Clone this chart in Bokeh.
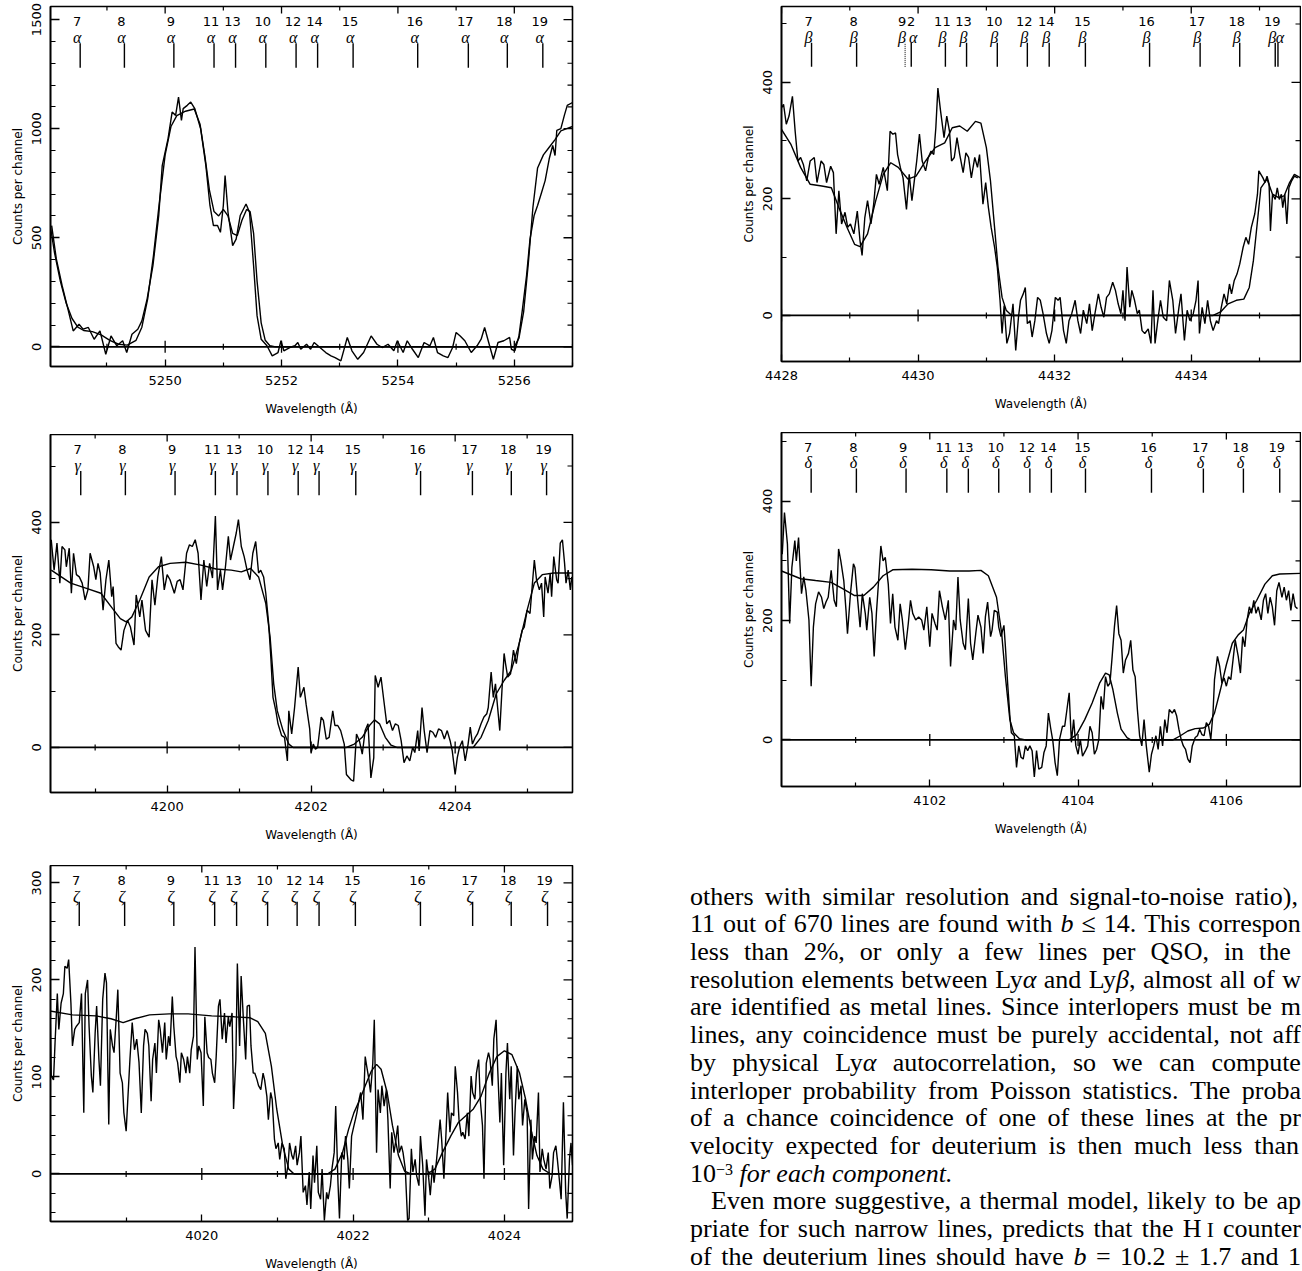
from bokeh.plotting import figure
from bokeh.models import Range1d, FixedTicker, Span, Div
from bokeh.layouts import row, column
from bokeh.embed import file_html
from bokeh.resources import INLINE
from bokeh.core.properties import value

SANS = "DejaVu Sans"
SERIF = "Liberation Serif"

# ---------------- component labels ----------------
COMP_LABELS = ["7", "8", "9", "11", "13", "10", "12", "14", "15", "16", "17", "18", "19"]
ALPHA_COMP = [5248.54, 5249.30, 5250.15, 5250.84, 5251.21, 5251.73, 5252.25, 5252.62, 5253.23, 5254.34, 5255.21, 5255.88, 5256.49]
BETA_COMP = [4428.44, 4429.10, 4429.81, 4430.40, 4430.71, 4431.16, 4431.60, 4431.92, 4432.45, 4433.39, 4434.13, 4434.71, 4435.23]
BETA_EXTRA_X = [4429.90, 4435.27]
BETA_EXTRA_NUM = ["2"]
GAMMA_COMP = [4198.80, 4199.42, 4200.11, 4200.67, 4200.97, 4201.40, 4201.82, 4202.11, 4202.62, 4203.52, 4204.24, 4204.78, 4205.27]
DELTA_COMP = [4100.40, 4101.01, 4101.68, 4102.23, 4102.52, 4102.93, 4103.35, 4103.64, 4104.10, 4104.99, 4105.69, 4106.23, 4106.72]
ZETA_COMP = [4018.38, 4018.98, 4019.63, 4020.17, 4020.46, 4020.87, 4021.26, 4021.55, 4022.03, 4022.89, 4023.58, 4024.09, 4024.57]

# ---------------- Ly alpha ----------------
ALPHA_X = [5248.05, 5248.13, 5248.23, 5248.33, 5248.42, 5248.52, 5248.59, 5248.68, 5248.78, 5248.88,
           5248.98, 5249.07, 5249.17, 5249.27, 5249.34, 5249.43, 5249.53, 5249.60, 5249.69, 5249.79,
           5249.89, 5249.95, 5250.05, 5250.12, 5250.18, 5250.23, 5250.28, 5250.31, 5250.38, 5250.44,
           5250.51, 5250.61, 5250.70, 5250.77, 5250.83, 5250.90, 5250.95, 5251.00, 5251.03, 5251.08,
           5251.16, 5251.22, 5251.29, 5251.39, 5251.45, 5251.52, 5251.58, 5251.65, 5251.75, 5251.84,
           5251.94, 5251.99, 5252.04, 5252.14, 5252.23, 5252.28, 5252.33, 5252.43, 5252.50, 5252.56,
           5252.66, 5252.76, 5252.85, 5252.92, 5253.02, 5253.13, 5253.21, 5253.31, 5253.41, 5253.54,
           5253.64, 5253.73, 5253.83, 5253.93, 5253.99, 5254.09, 5254.16, 5254.25, 5254.35, 5254.45,
           5254.55, 5254.61, 5254.68, 5254.78, 5254.86, 5254.94, 5255.00, 5255.07, 5255.15, 5255.26,
           5255.36, 5255.43, 5255.49, 5255.56, 5255.64, 5255.72, 5255.82, 5255.92, 5255.95, 5256.01,
           5256.08, 5256.14, 5256.21, 5256.27, 5256.34, 5256.40, 5256.47, 5256.53, 5256.60, 5256.66,
           5256.70, 5256.73, 5256.80, 5256.86, 5256.91, 5257.0]
ALPHA_Y = [556, 403, 280, 173, 73, 104, 81, 89, 35, 73,
           -34, 50, 5, 28, -26, 58, 81, 119, 219, 372,
           602, 831, 954, 1076, 1061, 1145, 1038, 1092, 1107, 1122,
           1092, 1000, 831, 648, 556, 556, 525, 648, 785, 617,
           464, 494, 602, 655, 617, 372, 142, 35, 5, -41,
           -26, 28, -18, -3, 5, 20, -11, 12, -11, 20,
           -3, -26, -41, -49, -64, 43, -18, -57, -26, 50,
           12, -3, 12, -18, 28, -26, 28, -11, -49, 20,
           5, 43, -26, -41, -49, -3, 66, 50, 28, -26,
           5, 35, 89, 20, -57, 20, 28, 43, -11, -18,
           50, 173, 326, 494, 602, 648, 709, 762, 862, 923,
           877, 992, 1000, 1061, 1107, 1120]
ALPHA_MX = [5248.0, 5248.1, 5248.2, 5248.3, 5248.4, 5248.5, 5248.6, 5248.75, 5248.9,
            5249.05, 5249.2, 5249.35, 5249.5, 5249.6, 5249.7, 5249.8, 5249.9,
            5250.0, 5250.1, 5250.2, 5250.35, 5250.5, 5250.6, 5250.68, 5250.76, 5250.84, 5250.92,
            5251.0, 5251.08, 5251.16, 5251.24, 5251.32, 5251.4, 5251.46, 5251.52, 5251.58, 5251.65,
            5251.72, 5251.8, 5251.9, 5252.0, 5256.0, 5256.08, 5256.16, 5256.24, 5256.32, 5256.4,
            5256.5, 5256.6, 5256.7, 5256.8, 5256.9, 5257.0]
ALPHA_MY = [600, 430, 300, 200, 130, 90, 75, 70, 55,
            30, 12, 8, 30, 90, 220, 420, 660,
            880, 1010, 1060, 1080, 1090, 1020, 880, 720, 620, 600,
            630, 600, 520, 510, 580, 630, 620, 520, 300, 110,
            30, 5, 0, 0, 0, 40, 160, 380, 640, 820,
            880, 915, 950, 990, 1000, 1010]

# ---------------- Ly beta ----------------
BETA_X = [4428.00, 4428.03, 4428.07, 4428.11, 4428.16, 4428.20, 4428.24, 4428.28, 4428.32, 4428.37,
          4428.42, 4428.48, 4428.52, 4428.58, 4428.62, 4428.66, 4428.72, 4428.76, 4428.80, 4428.84,
          4428.88, 4428.93, 4428.97, 4429.01, 4429.06, 4429.11, 4429.15, 4429.18, 4429.22, 4429.26,
          4429.31, 4429.35, 4429.39, 4429.43, 4429.49, 4429.55, 4429.59, 4429.63, 4429.67, 4429.70,
          4429.74, 4429.78, 4429.83, 4429.87, 4429.91, 4429.95, 4429.98, 4430.02, 4430.06, 4430.11,
          4430.15, 4430.19, 4430.23, 4430.26, 4430.29, 4430.33, 4430.38, 4430.42, 4430.46, 4430.49,
          4430.53, 4430.57, 4430.61, 4430.66, 4430.70, 4430.74, 4430.78, 4430.83, 4430.87, 4430.90,
          4430.95, 4430.99, 4431.03, 4431.07, 4431.12, 4431.16, 4431.20, 4431.23, 4431.26, 4431.30,
          4431.34, 4431.39, 4431.43, 4431.47, 4431.50, 4431.54, 4431.57, 4431.60, 4431.64, 4431.67,
          4431.71, 4431.75, 4431.79, 4431.83, 4431.88, 4431.92, 4431.96, 4432.01, 4432.05, 4432.08,
          4432.13, 4432.17, 4432.21, 4432.25, 4432.30, 4432.34, 4432.38, 4432.42, 4432.47, 4432.51,
          4432.55, 4432.59, 4432.64, 4432.68, 4432.72, 4432.76, 4432.80, 4432.85, 4432.89, 4432.93,
          4432.97, 4433.00, 4433.03, 4433.06, 4433.10, 4433.13, 4433.17, 4433.21, 4433.24, 4433.28,
          4433.32, 4433.37, 4433.41, 4433.44, 4433.47, 4433.51, 4433.55, 4433.59, 4433.64, 4433.68,
          4433.73, 4433.77, 4433.82, 4433.85, 4433.90, 4433.94, 4433.98, 4434.03, 4434.07, 4434.10,
          4434.12, 4434.16, 4434.20, 4434.24, 4434.28, 4434.32, 4434.37, 4434.40, 4434.44, 4434.48,
          4434.52, 4434.56, 4434.59, 4434.63, 4434.67, 4434.71, 4434.76, 4434.80, 4434.84, 4434.88,
          4434.93, 4434.97, 4434.99, 4435.02, 4435.05, 4435.08, 4435.11, 4435.14, 4435.16, 4435.19,
          4435.23, 4435.26, 4435.29, 4435.32, 4435.34, 4435.37, 4435.40, 4435.43, 4435.47, 4435.51,
          4435.56]
BETA_Y = [356, 362, 328, 342, 376, 316, 265, 271, 259, 231,
          265, 271, 228, 265, 259, 228, 256, 245, 140, 214,
          157, 177, 151, 157, 140, 179, 128, 103, 168, 197,
          157, 191, 242, 225, 254, 214, 316, 311, 313, 276,
          254, 236, 182, 242, 197, 236, 265, 311, 265, 248,
          271, 282, 276, 322, 390, 350, 305, 342, 316, 265,
          271, 305, 276, 245, 279, 271, 236, 271, 254, 276,
          191, 228, 185, 151, 117, 83, 26, -31, 17, -48,
          -31, 20, -60, -3, 26, 37, 48, -14, -9, -37,
          -9, 31, 26, 3, -31, -48, -26, 31, 26, 31,
          -26, -48, -9, 3, 26, -9, -31, 9, -14, 20,
          -26, 3, 37, 14, -3, 31, 37, 57, 43, 20,
          3, 43, -9, 83, 14, 43, 26, 3, 9, -26,
          -31, -23, -48, 43, -48, -9, 26, -3, -9, 60,
          26, -31, 14, 37, -43, 9, -9, 3, 26, 60,
          -31, 14, -14, 26, -9, -26, -9, -14, 14, 37,
          20, 54, 37, 60, 71, 88, 117, 134, 122, 151,
          174, 208, 248, 242, 236, 228, 239, 225, 145, 208,
          199, 219, 199, 208, 185, 208, 157, 219, 231, 239,
          236]
BETA_MX = [4428.0, 4428.14, 4428.28, 4428.42, 4428.59, 4428.73, 4428.84, 4428.96, 4429.07, 4429.15,
           4429.26, 4429.38, 4429.49, 4429.60, 4429.71, 4429.85, 4429.97, 4430.11, 4430.25, 4430.39,
           4430.50, 4430.61, 4430.72, 4430.84, 4430.92, 4431.00, 4431.06, 4431.12, 4431.17, 4431.23,
           4431.29, 4431.37, 4434.32, 4434.43, 4434.54, 4434.66, 4434.77, 4434.85, 4434.91, 4434.97,
           4435.02, 4435.11, 4435.19, 4435.28, 4435.36, 4435.44, 4435.51, 4435.6]
BETA_MY = [319, 293, 254, 225, 222, 219, 185, 151, 122, 118,
           140, 197, 242, 262, 254, 234, 239, 265, 288, 296,
           322, 325, 316, 333, 330, 288, 231, 151, 83, 31,
           9, 0, 0, 6, 20, 26, 28, 48, 94, 162,
           219, 234, 208, 202, 205, 228, 242, 236]

# ---------------- Ly gamma ----------------
GAMMA_X = [4198.39, 4198.43, 4198.47, 4198.51, 4198.54, 4198.58, 4198.60, 4198.64, 4198.67, 4198.70,
           4198.74, 4198.78, 4198.82, 4198.86, 4198.90, 4198.93, 4198.98, 4199.01, 4199.04, 4199.07,
           4199.11, 4199.15, 4199.19, 4199.23, 4199.25, 4199.29, 4199.32, 4199.36, 4199.40, 4199.45,
           4199.49, 4199.54, 4199.57, 4199.62, 4199.65, 4199.70, 4199.75, 4199.79, 4199.83, 4199.87,
           4199.92, 4199.96, 4200.00, 4200.04, 4200.10, 4200.14, 4200.18, 4200.22, 4200.27, 4200.31,
           4200.35, 4200.39, 4200.43, 4200.47, 4200.51, 4200.55, 4200.59, 4200.63, 4200.67, 4200.70,
           4200.74, 4200.77, 4200.81, 4200.85, 4200.88, 4200.92, 4200.96, 4200.99, 4201.03, 4201.07,
           4201.11, 4201.15, 4201.19, 4201.23, 4201.27, 4201.30, 4201.34, 4201.37, 4201.41, 4201.44,
           4201.47, 4201.51, 4201.54, 4201.59, 4201.63, 4201.67, 4201.69, 4201.73, 4201.77, 4201.82,
           4201.85, 4201.90, 4201.93, 4201.98, 4202.00, 4202.03, 4202.06, 4202.09, 4202.14, 4202.17,
           4202.21, 4202.25, 4202.30, 4202.33, 4202.37, 4202.41, 4202.46, 4202.49, 4202.55, 4202.59,
           4202.63, 4202.67, 4202.71, 4202.75, 4202.79, 4202.83, 4202.87, 4202.89, 4202.93, 4202.97,
           4203.01, 4203.05, 4203.09, 4203.13, 4203.17, 4203.21, 4203.25, 4203.29, 4203.33, 4203.37,
           4203.41, 4203.44, 4203.48, 4203.50, 4203.54, 4203.57, 4203.61, 4203.65, 4203.69, 4203.73,
           4203.77, 4203.81, 4203.85, 4203.89, 4203.93, 4203.96, 4204.00, 4204.03, 4204.06, 4204.10,
           4204.14, 4204.18, 4204.21, 4204.24, 4204.28, 4204.31, 4204.36, 4204.40, 4204.44, 4204.46,
           4204.50, 4204.53, 4204.56, 4204.59, 4204.62, 4204.65, 4204.68, 4204.70, 4204.73, 4204.77,
           4204.81, 4204.85, 4204.89, 4204.93, 4204.96, 4205.00, 4205.04, 4205.07, 4205.10, 4205.13,
           4205.17, 4205.20, 4205.23, 4205.25, 4205.29, 4205.32, 4205.34, 4205.37, 4205.41, 4205.43,
           4205.46, 4205.49, 4205.52, 4205.54, 4205.57, 4205.60, 4205.62]
GAMMA_Y = [369, 315, 363, 292, 357, 351, 321, 354, 274, 345,
           307, 303, 292, 262, 280, 345, 321, 298, 327, 310,
           244, 298, 333, 268, 286, 185, 179, 173, 208, 226,
           214, 182, 271, 232, 262, 208, 196, 298, 253, 303,
           339, 280, 307, 298, 274, 295, 298, 280, 345, 360,
           357, 369, 345, 262, 333, 286, 327, 301, 411, 280,
           315, 280, 321, 375, 333, 357, 381, 405, 357, 339,
           315, 298, 345, 366, 310, 315, 303, 274, 220, 161,
           89, 65, 42, 21, 18, -24, 65, 24, 71, 143,
           89, 107, 77, 33, -9, 6, -3, 0, 54, 48,
           15, 18, 65, 39, 39, 30, 6, -48, -57, -60,
           24, 12, -12, 30, 42, -54, -18, 128, 107, 125,
           83, 42, 48, 30, 42, 39, 12, -27, -15, -24,
           0, -9, 30, -6, 71, 30, -9, 30, 27, 18,
           33, 30, 15, 30, 12, -6, -48, -18, 0, 12,
           -24, 6, 36, 6, 18, 24, 42, 54, 60, 71,
           134, 89, 113, 71, 30, 101, 167, 149, 125, 131,
           173, 149, 185, 208, 214, 244, 238, 286, 333, 298,
           280, 292, 232, 303, 274, 310, 268, 339, 298, 292,
           363, 369, 327, 292, 315, 280, 303]
GAMMA_MX = [4198.39, 4198.66, 4198.87, 4199.08, 4199.24, 4199.35, 4199.43, 4199.51, 4199.62, 4199.75,
            4199.88, 4200.04, 4200.26, 4200.47, 4200.68, 4200.89, 4201.03, 4201.16, 4201.27, 4201.37,
            4201.43, 4201.48, 4201.53, 4201.61, 4201.69, 4201.75, 4202.49, 4202.60, 4202.71, 4202.81,
            4202.88, 4202.95, 4203.03, 4203.11, 4203.19, 4204.25, 4204.36, 4204.46, 4204.57, 4204.68,
            4204.78, 4204.89, 4205.00, 4205.10, 4205.21, 4205.37, 4205.63]
GAMMA_MY = [315, 292, 283, 274, 247, 229, 223, 232, 262, 303,
            321, 327, 329, 324, 317, 315, 312, 318, 303, 256,
            196, 113, 65, 30, 6, 0, 0, 6, 18, 39,
            49, 42, 18, 4, 0, 0, 18, 48, 95, 119,
            137, 185, 244, 292, 307, 310, 310]

# ---------------- Ly delta ----------------
DELTA_X = [4100.01, 4100.04, 4100.08, 4100.11, 4100.14, 4100.18, 4100.20, 4100.23, 4100.27, 4100.30,
           4100.33, 4100.37, 4100.40, 4100.43, 4100.46, 4100.50, 4100.54, 4100.57, 4100.60, 4100.63,
           4100.67, 4100.71, 4100.74, 4100.77, 4100.80, 4100.84, 4100.87, 4100.89, 4100.93, 4100.97,
           4100.99, 4101.02, 4101.06, 4101.09, 4101.13, 4101.15, 4101.19, 4101.22, 4101.25, 4101.28,
           4101.31, 4101.34, 4101.37, 4101.40, 4101.44, 4101.47, 4101.50, 4101.53, 4101.57, 4101.60,
           4101.63, 4101.67, 4101.71, 4101.74, 4101.77, 4101.81, 4101.85, 4101.89, 4101.92, 4101.96,
           4102.00, 4102.03, 4102.07, 4102.10, 4102.13, 4102.17, 4102.21, 4102.25, 4102.28, 4102.32,
           4102.35, 4102.38, 4102.41, 4102.45, 4102.48, 4102.52, 4102.55, 4102.58, 4102.62, 4102.65,
           4102.69, 4102.72, 4102.75, 4102.78, 4102.82, 4102.84, 4102.87, 4102.91, 4102.93, 4102.96,
           4103.00, 4103.02, 4103.05, 4103.08, 4103.10, 4103.14, 4103.17, 4103.20, 4103.23, 4103.26,
           4103.29, 4103.32, 4103.35, 4103.38, 4103.41, 4103.44, 4103.47, 4103.51, 4103.54, 4103.57,
           4103.60, 4103.63, 4103.66, 4103.69, 4103.72, 4103.75, 4103.79, 4103.82, 4103.85, 4103.88,
           4103.91, 4103.94, 4103.97, 4104.00, 4104.03, 4104.06, 4104.10, 4104.13, 4104.16, 4104.19,
           4104.22, 4104.25, 4104.28, 4104.31, 4104.34, 4104.37, 4104.40, 4104.43, 4104.46, 4104.49,
           4104.52, 4104.55, 4104.58, 4104.61, 4104.64, 4104.68, 4104.71, 4104.74, 4104.77, 4104.80,
           4104.83, 4104.86, 4104.89, 4104.92, 4104.96, 4104.99, 4105.02, 4105.05, 4105.08, 4105.11,
           4105.14, 4105.17, 4105.20, 4105.23, 4105.27, 4105.30, 4105.33, 4105.36, 4105.39, 4105.42,
           4105.45, 4105.48, 4105.51, 4105.54, 4105.58, 4105.61, 4105.64, 4105.67, 4105.70, 4105.73,
           4105.76, 4105.79, 4105.82, 4105.84, 4105.88, 4105.91, 4105.94, 4105.97, 4106.00, 4106.03,
           4106.06, 4106.09, 4106.12, 4106.16, 4106.19, 4106.22, 4106.25, 4106.28, 4106.31, 4106.34,
           4106.37, 4106.40, 4106.43, 4106.47, 4106.50, 4106.53, 4106.56, 4106.59, 4106.62, 4106.65,
           4106.68, 4106.71, 4106.75, 4106.78, 4106.81, 4106.84, 4106.87, 4106.90, 4106.93, 4106.96]
DELTA_Y = [311, 381, 328, 195, 289, 334, 300, 339, 245, 273,
           250, 201, 90, 189, 228, 248, 239, 220, 231, 239,
           284, 234, 223, 320, 300, 267, 217, 178, 245, 295,
           289, 245, 189, 245, 212, 184, 239, 212, 140, 212,
           267, 325, 300, 306, 261, 195, 245, 189, 167, 228,
           201, 151, 195, 234, 212, 201, 206, 201, 184, 223,
           156, 212, 195, 184, 250, 223, 201, 234, 123, 201,
           184, 273, 201, 162, 151, 237, 162, 134, 178, 209,
           189, 145, 206, 231, 173, 184, 217, 214, 189, 173,
           192, 156, 95, 40, 12, 7, -46, -10, -29, -32,
           -10, -18, -10, -18, -62, -18, -49, -46, -21, -10,
           45, 20, -2, -38, -60, 1, 23, 23, 51, 79,
           -4, 34, -10, -24, 1, -27, -18, -10, 23, 12,
           -24, -16, 1, 73, 51, 106, 90, 95, 140, 189,
           225, 178, 167, 112, 134, 145, 167, 117, 106, 51,
           7, -10, 34, -10, -54, -24, -10, 7, -16, 23,
           -10, 34, 12, 51, 45, 51, 40, 18, 1, -10,
           -16, -32, -38, -10, 4, 7, 18, 9, 7, 29,
           23, 1, 45, 101, 140, 123, 95, 104, 90, 106,
           101, 134, 167, 140, 112, 173, 156, 201, 223, 212,
           234, 212, 223, 201, 234, 245, 212, 239, 223, 192,
           250, 264, 239, 256, 234, 250, 217, 245, 223, 220]
DELTA_MX = [4100.0, 4100.26, 4100.46, 4100.67, 4100.83, 4100.98, 4101.11, 4101.24, 4101.37, 4101.50,
            4101.76, 4102.02, 4102.27, 4102.53, 4102.69, 4102.79, 4102.90, 4102.97, 4103.02, 4103.08,
            4103.13, 4103.21, 4103.29, 4103.88, 4103.98, 4104.09, 4104.19, 4104.29, 4104.37, 4104.42,
            4104.47, 4104.53, 4104.58, 4104.66, 4104.71, 4105.28, 4105.38, 4105.48, 4105.58, 4105.69,
            4105.77, 4105.84, 4105.92, 4106.00, 4106.08, 4106.16, 4106.23, 4106.31, 4106.41, 4106.52,
            4106.62, 4106.72, 4107.0]
DELTA_MY = [283, 270, 267, 264, 253, 242, 242, 256, 275, 285,
            286, 285, 283, 283, 284, 275, 239, 178, 106, 34,
            12, 2, 0, 0, 9, 34, 62, 95, 112, 109,
            84, 45, 18, 4, 0, 0, 7, 15, 19, 20,
            26, 45, 84, 126, 162, 176, 184, 212, 234, 261,
            275, 278, 279]

# ---------------- Ly zeta ----------------
ZETA_X = [4017.99, 4018.01, 4018.04, 4018.06, 4018.09, 4018.11, 4018.14, 4018.17, 4018.19, 4018.22,
          4018.24, 4018.27, 4018.29, 4018.32, 4018.34, 4018.38, 4018.41, 4018.44, 4018.46, 4018.49,
          4018.51, 4018.54, 4018.56, 4018.59, 4018.61, 4018.64, 4018.66, 4018.69, 4018.72, 4018.74,
          4018.77, 4018.79, 4018.82, 4018.84, 4018.87, 4018.89, 4018.92, 4018.95, 4018.97, 4019.00,
          4019.02, 4019.05, 4019.08, 4019.11, 4019.14, 4019.17, 4019.20, 4019.23, 4019.25, 4019.28,
          4019.30, 4019.33, 4019.35, 4019.38, 4019.40, 4019.43, 4019.45, 4019.48, 4019.51, 4019.53,
          4019.56, 4019.58, 4019.61, 4019.63, 4019.66, 4019.68, 4019.71, 4019.73, 4019.76, 4019.79,
          4019.81, 4019.84, 4019.86, 4019.89, 4019.91, 4019.94, 4019.96, 4019.99, 4020.02, 4020.04,
          4020.07, 4020.09, 4020.12, 4020.14, 4020.17, 4020.19, 4020.22, 4020.24, 4020.27, 4020.30,
          4020.32, 4020.35, 4020.37, 4020.40, 4020.42, 4020.45, 4020.47, 4020.50, 4020.52, 4020.55,
          4020.58, 4020.60, 4020.63, 4020.65, 4020.68, 4020.70, 4020.73, 4020.75, 4020.78, 4020.81,
          4020.83, 4020.86, 4020.88, 4020.91, 4020.93, 4020.96, 4020.98, 4021.01, 4021.03, 4021.06,
          4021.09, 4021.11, 4021.14, 4021.16, 4021.19, 4021.21, 4021.24, 4021.26, 4021.29, 4021.31,
          4021.34, 4021.37, 4021.39, 4021.42, 4021.44, 4021.47, 4021.49, 4021.52, 4021.54, 4021.57,
          4021.59, 4021.62, 4021.65, 4021.67, 4021.70, 4021.72, 4021.75, 4021.77, 4021.80, 4021.82,
          4021.85, 4021.88, 4021.90, 4021.93, 4021.95, 4021.98, 4022.00, 4022.03, 4022.05, 4022.08,
          4022.10, 4022.13, 4022.16, 4022.18, 4022.21, 4022.23, 4022.26, 4022.28, 4022.31, 4022.33,
          4022.36, 4022.38, 4022.41, 4022.44, 4022.46, 4022.49, 4022.51, 4022.54, 4022.56, 4022.59,
          4022.61, 4022.64, 4022.66, 4022.69, 4022.72, 4022.74, 4022.77, 4022.79, 4022.82, 4022.84,
          4022.87, 4022.89, 4022.92, 4022.95, 4022.97, 4023.00, 4023.02, 4023.05, 4023.07, 4023.10,
          4023.12, 4023.15, 4023.17, 4023.20, 4023.23, 4023.25, 4023.28, 4023.30, 4023.33, 4023.35,
          4023.38, 4023.40, 4023.43, 4023.45, 4023.48, 4023.51, 4023.53, 4023.56, 4023.58, 4023.61,
          4023.63, 4023.66, 4023.68, 4023.71, 4023.73, 4023.76, 4023.79, 4023.81, 4023.84, 4023.86,
          4023.89, 4023.91, 4023.94, 4023.96, 4023.99, 4024.02, 4024.04, 4024.07, 4024.09, 4024.12,
          4024.14, 4024.17, 4024.19, 4024.22, 4024.24, 4024.27, 4024.30, 4024.32, 4024.35, 4024.37,
          4024.40, 4024.42, 4024.45, 4024.47, 4024.50, 4024.52, 4024.55, 4024.58, 4024.60, 4024.63,
          4024.65, 4024.68, 4024.70, 4024.73, 4024.75, 4024.78, 4024.81, 4024.83, 4024.86, 4024.88,
          4024.90]
ZETA_Y = [190, 101, 97, 135, 186, 149, 176, 186, 214, 212,
          221, 176, 132, 149, 152, 156, 186, 63, 186, 200,
          152, 101, 84, 145, 173, 118, 91, 180, 207, 197,
          51, 149, 132, 125, 162, 190, 104, 94, 63, 44,
          74, 118, 156, 128, 139, 115, 63, 132, 149, 145,
          132, 75, 118, 135, 104, 159, 149, 125, 156, 118,
          142, 132, 183, 152, 121, 115, 94, 125, 118, 104,
          121, 104, 128, 142, 234, 118, 132, 125, 70, 162,
          125, 120, 118, 104, 94, 121, 173, 180, 139, 166,
          135, 162, 152, 166, 67, 118, 217, 132, 204, 159,
          118, 173, 174, 132, 104, 104, 97, 91, 87, 104,
          97, 80, 56, 84, 77, 36, 26, 32, 15, 32,
          26, -5, 9, 32, 19, 15, 29, 9, 22, 39,
          -19, -12, -32, 2, -36, 19, -9, 29, -19, -26,
          5, -48, -19, -26, -12, 5, 22, 70, -9, -46,
          22, 15, 39, 15, -15, 39, 46, 56, 63, 77,
          84, 56, 121, 111, 97, 84, 114, 159, 22, 87,
          63, 91, 70, 87, 56, -15, 43, 22, 32, 50,
          22, 29, 22, 5, -48, -46, 26, 2, 15, -2,
          -12, 39, 9, -43, 15, -5, -22, 9, -9, 12,
          29, 56, 36, -5, 46, 84, 43, 63, 60, 111,
          84, 56, 39, 43, 36, 63, 39, 101, 84, 77,
          104, 118, 77, 50, -5, 114, 125, 118, 91, 139,
          159, 111, 53, 104, 9, 104, 135, 77, 111, 19,
          63, 111, 77, 91, 50, 77, 63, -36, 56, 15,
          39, 32, 84, 2, 26, 15, 5, 22, -15, -2,
          22, 29, 15, -9, -26, 74, -19, -46, 15, 32,
          9]
ZETA_MX = [4017.99, 4018.29, 4018.60, 4018.80, 4018.96, 4019.11, 4019.31, 4019.57, 4019.82, 4020.13,
           4020.43, 4020.64, 4020.74, 4020.84, 4020.92, 4020.99, 4021.07, 4021.15, 4021.22, 4021.66,
           4021.76, 4021.86, 4021.94, 4022.01, 4022.09, 4022.16, 4022.24, 4022.31, 4022.37, 4022.45,
           4022.52, 4022.60, 4022.68, 4022.76, 4022.98, 4023.08, 4023.18, 4023.29, 4023.39, 4023.49,
           4023.59, 4023.69, 4023.80, 4023.90, 4024.00, 4024.10, 4024.20, 4024.28, 4024.36, 4024.43,
           4024.51, 4024.61, 4024.90]
ZETA_MY = [168, 164, 163, 160, 156, 160, 164, 165, 165, 163,
           162, 161, 157, 145, 111, 67, 29, 5, 0, 0,
           5, 22, 46, 63, 77, 91, 106, 113, 108, 84,
           50, 19, 3, 0, 0, 5, 22, 39, 53, 60,
           67, 80, 104, 121, 127, 123, 104, 77, 43, 19,
           5, 0, 0]

# ---------------- body text (visible part of each line) ----------------
TEXT_LINES = [
    "others with similar resolution and signal-to-noise ratio),",
    "11 out of 670 lines are found with <i>b</i> \u2264 14. This correspon",
    "less than 2%, or only a few lines per QSO, in the",
    "resolution elements between Ly<i>\u03b1</i> and Ly<i>\u03b2</i>, almost all of w",
    "are identified as metal lines. Since interlopers must be m",
    "lines, any coincidence must be purely accidental, not aff",
    "by physical Ly<i>\u03b1</i> autocorrelation, so we can compute",
    "interloper probability from Poisson statistics. The proba",
    "of a chance coincidence of one of these lines at the pr",
    "velocity expected for deuterium is then much less than",
    "10<span style=\"position:relative;top:-7px;font-size:16px;line-height:0;\">\u22123</span> <i>for each component.</i>",
    "Even more suggestive, a thermal model, likely to be ap",
    "priate for such narrow lines, predicts that the H&#8201;<small>I</small> counter",
    "of the deuterium lines should have <i>b</i> = 10.2 \u00b1 1.7 and 1",
]
# right end of each justified line (px from the block's left edge), None = not justified
LINE_END = [616, 619, 609, 619, 619, 619, 619, 619, 619, 617, None, 619, 619, 619]
LINE_INDENT = [8, 8, 8, 8, 8, 8, 8, 8, 8, 8, 8, 29, 8, 8]

for a, b in [(ALPHA_X, ALPHA_Y), (ALPHA_MX, ALPHA_MY), (BETA_X, BETA_Y), (BETA_MX, BETA_MY),
             (GAMMA_X, GAMMA_Y), (GAMMA_MX, GAMMA_MY), (DELTA_X, DELTA_Y), (DELTA_MX, DELTA_MY),
             (ZETA_X, ZETA_Y), (ZETA_MX, ZETA_MY)]:
    assert len(a) == len(b), (len(a), len(b))


def style_axis(ax, tin, tmin):
    ax.major_tick_in = tin
    ax.major_tick_out = 0
    ax.minor_tick_in = tmin
    ax.minor_tick_out = 0
    ax.axis_line_color = "black"
    ax.axis_line_width = 1.6
    ax.major_tick_line_color = "black"
    ax.minor_tick_line_color = "black"
    ax.major_tick_line_width = 1.3
    ax.minor_tick_line_width = 1.2
    ax.major_label_text_font = SANS
    ax.major_label_text_font_size = "13px"
    ax.major_label_text_color = "black"
    ax.axis_label_text_font = SANS
    ax.axis_label_text_font_size = "12px"
    ax.axis_label_text_font_style = "normal"
    ax.axis_label_text_color = "black"


def make_panel(xr, yr, xmaj, xmin, ymaj, ymin, ox, oy, mx, my, comps, greek,
               fw, fh, bl, br, bt, bb, thin_idx=()):
    p = figure(x_range=Range1d(*xr), y_range=Range1d(*yr), frame_width=fw, frame_height=fh,
               min_border_left=bl, min_border_right=br, min_border_top=bt, min_border_bottom=bb,
               output_backend="svg", toolbar_location=None)
    p.extra_y_ranges = {"frac": Range1d(0, 1)}
    p.extra_x_ranges = {"fx": Range1d(0, 1)}
    p.grid.visible = False
    p.outline_line_color = "black"
    p.outline_line_width = 1.6
    xa = p.xaxis[0]
    ya = p.yaxis[0]
    xa.ticker = FixedTicker(ticks=xmaj, minor_ticks=xmin)
    ya.ticker = FixedTicker(ticks=ymaj, minor_ticks=ymin)
    style_axis(xa, 7, 4)
    style_axis(ya, 9, 5)
    xa.axis_label = "Wavelength (\u00c5)"
    ya.axis_label = "Counts per channel"
    xa.major_label_standoff = 9
    xa.axis_label_standoff = 14
    ya.major_label_orientation = "vertical"
    ya.major_label_standoff = 9
    ya.axis_label_standoff = 5

    # ticks on the top and right edges of the box
    nM, nm = len(xmaj), len(xmin)
    p.segment(x0=xmaj, y0=[1.0] * nM, x1=xmaj, y1=[1 - 7.0 / fh] * nM, y_range_name="frac",
              line_color="black", line_width=1.3)
    p.segment(x0=xmin, y0=[1.0] * nm, x1=xmin, y1=[1 - 4.0 / fh] * nm, y_range_name="frac",
              line_color="black", line_width=1.2)
    p.segment(x0=[1.0] * len(ymaj), y0=ymaj, x1=[1 - 9.0 / fw] * len(ymaj), y1=ymaj, x_range_name="fx",
              line_color="black", line_width=1.3)
    p.segment(x0=[1.0] * len(ymin), y0=ymin, x1=[1 - 5.0 / fw] * len(ymin), y1=ymin, x_range_name="fx",
              line_color="black", line_width=1.2)

    # zero line with its own ticks
    p.add_layout(Span(location=0, dimension="width", line_color="black", line_width=1.8))
    z = (0 - yr[0]) / (yr[1] - yr[0])
    dM = 6.0 / fh
    dm = 3.0 / fh
    p.segment(x0=xmaj, y0=[z - dM] * nM, x1=xmaj, y1=[z + dM] * nM,
              y_range_name="frac", line_color="black", line_width=1.3)
    p.segment(x0=xmin, y0=[z - dm] * nm, x1=xmin, y1=[z + dm] * nm,
              y_range_name="frac", line_color="black", line_width=1.2)

    # spectra: observed counts and fitted model
    p.line(ox, oy, line_color="black", line_width=1.4)
    p.line(mx, my, line_color="black", line_width=1.4)

    # component markers
    n = len(comps)
    solid = [c for i, c in enumerate(comps) if i not in thin_idx]
    thin = [c for i, c in enumerate(comps) if i in thin_idx]
    p.segment(x0=solid, y0=[0.830] * len(solid), x1=solid, y1=[0.898] * len(solid), y_range_name="frac",
              line_color="black", line_width=1.4)
    if thin:
        p.segment(x0=thin, y0=[0.830] * len(thin), x1=thin, y1=[0.898] * len(thin), y_range_name="frac",
                  line_color="black", line_width=1.0, line_dash="1 1")
    p.text(x=comps, y=[0.958] * n, text=COMP_LABELS, y_range_name="frac", x_offset=-3,
           text_align="center", text_baseline="middle", text_font=value(SANS),
           text_font_size="13px", text_color="black")
    p.text(x=comps, y=[0.914] * n, text=[greek] * n, y_range_name="frac", x_offset=-3,
           text_align="center", text_baseline="middle", text_font=value(SERIF),
           text_font_style="italic", text_font_size="16px", text_color="black")
    return p


pa = make_panel((5248.03, 5257.0), (-90, 1560), [5250, 5252, 5254, 5256], [5249, 5251, 5253, 5255, 5257],
                [0, 500, 1000, 1500], [100, 200, 300, 400, 600, 700, 800, 900, 1100, 1200, 1300, 1400],
                ALPHA_X, ALPHA_Y, ALPHA_MX, ALPHA_MY, ALPHA_COMP, "\u03b1",
                522, 360, 50, 110, 6, 68)

pg = make_panel((4198.38, 4205.63), (-80, 556), [4200, 4202, 4204], [4199, 4201, 4203, 4205],
                [0, 200, 400], [100, 300, 500],
                GAMMA_X, GAMMA_Y, GAMMA_MX, GAMMA_MY, GAMMA_COMP, "\u03b3",
                522, 358, 50, 110, 0, 73)

pz = make_panel((4018.0, 4024.9), (-49, 318), [4020, 4022, 4024], [4019, 4021, 4023],
                [0, 100, 200, 300],
                [-40, -20, 20, 40, 60, 80, 120, 140, 160, 180, 220, 240, 260, 280],
                ZETA_X, ZETA_Y, ZETA_MX, ZETA_MY, ZETA_COMP, "\u03b6",
                522, 356, 50, 110, 0, 49)

pb = make_panel((4428.0, 4435.6), (-79, 530), [4428, 4430, 4432, 4434], [4429, 4431, 4433, 4435],
                [0, 200, 400], [100, 300, 500],
                BETA_X, BETA_Y, BETA_MX, BETA_MY, BETA_COMP, "\u03b2",
                519, 355, 99, 1, 6, 71, thin_idx=(2,))
# interloping lines in the beta panel: 2 alpha next to 9 beta, and an alpha line next to 19 beta
pb.segment(x0=BETA_EXTRA_X, y0=[0.830] * 2, x1=BETA_EXTRA_X, y1=[0.898] * 2, y_range_name="frac",
           line_color="black", line_width=1.4)
pb.text(x=BETA_EXTRA_X[:1], y=[0.958], text=BETA_EXTRA_NUM, y_range_name="frac", x_offset=0,
        text_align="center", text_baseline="middle", text_font=value(SANS), text_font_size="13px",
        text_color="black")
pb.text(x=BETA_EXTRA_X, y=[0.914] * 2, text=["\u03b1", "\u03b1"], y_range_name="frac", x_offset=2,
        text_align="center", text_baseline="middle", text_font=value(SERIF), text_font_style="italic",
        text_font_size="16px", text_color="black")

pd = make_panel((4100.0, 4107.0), (-78, 515), [4102, 4104, 4106], [4101, 4103, 4105],
                [0, 200, 400], [100, 300, 500],
                DELTA_X, DELTA_Y, DELTA_MX, DELTA_MY, DELTA_COMP, "\u03b4",
                519, 354, 99, 1, 0, 60)

# ---------------- text block as real HTML text ----------------
LH = 27.7
parts = []
for i, line in enumerate(TEXT_LINES):
    top = 36.6 + LH * i
    base = ("position:absolute;left:%dpx;top:%.1fpx;height:%.2fpx;line-height:%.2fpx;"
            "white-space:nowrap;" % (LINE_INDENT[i], top, LH, LH))
    end = LINE_END[i]
    if end is None:
        parts.append('<div style="%s">%s</div>' % (base, line))
    else:
        words = "".join("<span>%s</span>" % wd for wd in line.split(" "))
        parts.append('<div style="%swidth:%dpx;display:flex;justify-content:space-between;">%s</div>'
                     % (base, end - LINE_INDENT[i], words))
html = ('<div style="position:relative;width:619px;height:424px;overflow:hidden;'
        'font-family:\'Liberation Serif\',serif;font-size:26px;color:black;">%s</div>' % "".join(parts))
txt = Div(text=html, width=619, height=424, margin=(0, 0, 0, 0))

layout = row(column(pa, pg, pz), column(pb, pd, txt))
open("out.html", "w").write(file_html(layout, INLINE))
